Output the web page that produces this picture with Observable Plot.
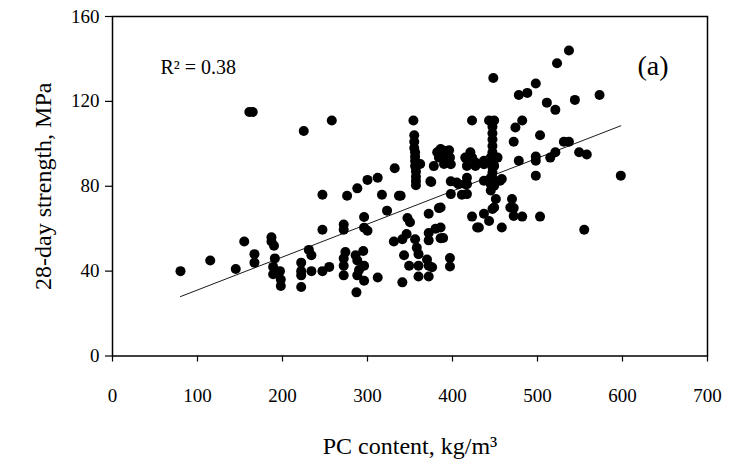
<!DOCTYPE html>
<html><head><meta charset="utf-8">
<script src="https://cdn.jsdelivr.net/npm/d3@7"></script>
<script src="https://cdn.jsdelivr.net/npm/@observablehq/plot@0.6"></script>
<style>body{margin:0;background:#fff}</style>
</head><body><div id="chart"></div>
<script>
// PC content (kg/m3) and 28-day strength (MPa)
const pcContent = [
 80,115,145,155,167,167,161,165,
 187,187,190,191,189,197,189,198,198,
 222,222,222,222,231,234,234,225,
 247,247,247,255,258,
 276,288,300,312,272,272,274,272,272,272,287,
 296,296,300,286,295,288,296,290,288,296,312,
 317,323,337,332,
 331,341,346,343,349,341,347,350,
 356,358,360,360,360,370,372,376,372,
 372,372,380,386,372,384,339,
 354,355,355,355,356,356,356,356,357,357,357,357,
 362,375,378,384,382,374,
 386,396,397,390,390,390,398,
 398,405,417,417,407,415,
 398,411,417,
 386,386,389,397,397,
 423,443,449,482,474,472,503,531,537,
 447,447,447,447,447,447,447,447,447,447,
 421,423,427,415,417,427,437,437,445,453,449,
 478,498,498,515,521,549,558,
 498,437,445,449,458,456,445,
 445,451,449,447,470,468,472,
 423,437,443,429,431,458,472,482,503,555,598,
 448,498,478,488,511,521,544,573,537,523
];
const strength28 = [
 40,45,41,54,48,44,115,115,
 56,54,52,46,42,40,38.5,36,33,
 44,40,38,32.5,50,47.5,40,106,
 76,59.5,40,42,111,
 75.5,79,83,84,62,59.5,49,46,42.5,38,30,
 65.5,60.5,59,47.5,49.5,45,42.5,40.5,38,35.5,37,
 76,68.5,75.5,88.5,
 54,55,57.5,47.5,42.5,34.7,65,63,
 55,51,48,42.5,37.5,45.5,42.5,41.8,37.5,
 58,54.5,60,55.5,67,69.7,75.5,
 111,104,101,98,96,94,92,89.5,87,84.5,82.5,80.5,
 90.5,82,89.5,93.5,96,82.3,
 97.5,97,93.5,96.7,93,90.5,90.4,
 82.3,81.8,84,81,81,81,
 76.3,76,76.3,
 70,60.6,55.6,46.2,42.2,
 111,111,111,111,107.7,101,104,101,101,
 108,105,102,99,96,93.5,91,89,86.5,84,
 96,93.5,91.2,93.5,89.6,89.6,90.4,92,93.5,93.5,89.6,
 92,94,92,93.5,96,96,95,
 85,82.6,84,80.2,83.4,82.6,81,
 78,74,70,69.3,74,70,69.7,
 65.7,67,63.6,60.6,60.6,60.6,66,65.7,65.7,59.5,85,
 131,128.4,123,124,119.4,116,120.7,123,144,138
];
// fitted regression line end points
const fitX = [80, 598];
const fitY = [28, 108.5];
const xTicks = [0,100,200,300,400,500,600,700];
const yTicks = [0,40,80,120,160];

const points = pcContent.map((x,i)=>({x, y: strength28[i]}));
const fit = fitX.map((x,i)=>({x, y: fitY[i]}));

const chart = Plot.plot({
  width: 732, height: 469,
  marginLeft: 112, marginRight: 25, marginTop: 16, marginBottom: 113.5,
  x: {domain: [0,700]},
  y: {domain: [0,160]},
  style: {fontFamily: "'Liberation Serif', 'Times New Roman', serif", fontSize: "19px", color: "black", background: "white"},
  marks: [
    Plot.axisX(xTicks, {tickSize: 6, tickPadding: 26, label: null, strokeWidth: 1.2}),
    Plot.axisY(yTicks, {tickSize: 7, tickPadding: 6, label: null, strokeWidth: 1.2}),
    Plot.line(fit, {x: "x", y: "y", stroke: "black", strokeWidth: 0.9}),
    Plot.dot(points, {x: "x", y: "y", r: 5, fill: "black", stroke: "none"}),
    Plot.frame({stroke: "black", strokeWidth: 1.5}),
    Plot.text(["R² = 0.38"], {frameAnchor: "top-left", dx: 48, dy: 51, fontSize: 20, textAnchor: "start", lineAnchor: "middle"}),
    Plot.text(["(a)"], {frameAnchor: "top-right", dx: -39, dy: 50, fontSize: 28, textAnchor: "end", lineAnchor: "middle"}),
    Plot.text(["PC content, kg/m³"], {frameAnchor: "bottom", dy: 90, fontSize: 24, textAnchor: "middle", lineAnchor: "middle"}),
    Plot.text(["28-day strength, MPa"], {frameAnchor: "left", dx: -69, rotate: -90, fontSize: 24, textAnchor: "middle", lineAnchor: "middle"})
  ]
});
document.getElementById("chart").append(chart);
</script>
</body></html>
